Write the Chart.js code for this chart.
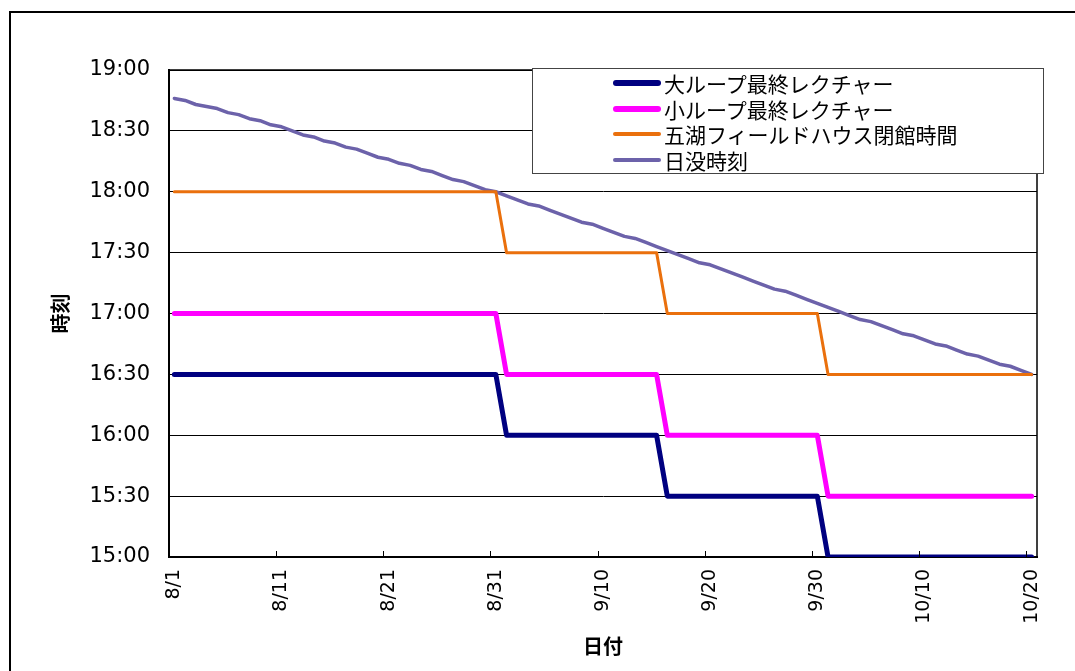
<!DOCTYPE html>
<html>
<head>
<meta charset="utf-8">
<script src="https://cdn.jsdelivr.net/npm/chart.js@4/dist/chart.umd.min.js"></script>
<style>
  html, body { margin: 0; padding: 0; background: #fff; }
  #wrap { position: relative; width: 1075px; height: 671px; overflow: hidden; }
  #frame { position: absolute; left: 9px; top: 11px; width: 1100px; height: 700px;
           border-left: 2px solid #000; border-top: 2px solid #000; }
  #chart { position: absolute; left: 0; top: 0; }
  #legend { position: absolute; left: 532px; top: 68px; width: 512px; height: 106px;
            box-sizing: border-box; border: 1px solid #444; background: #fff;
            font-family: "Noto Sans CJK JP", sans-serif; font-size: 21px; color: #000; }
  .item { position: absolute; left: 80px; height: 26px; display: flex; align-items: center; white-space: nowrap; }
  .swatch { width: 48px; margin-right: 3px; border-radius: 3px; }
</style>
</head>
<body>
<div id="wrap">
  <div id="frame"></div>
  <canvas id="chart" width="1075" height="671"></canvas>
  <div id="legend"></div>
</div>
<script>
// Days from 8/1 to 10/20
const monthDays = [[8, 31], [9, 30], [10, 20]];
const dates = [];
monthDays.forEach(([m, n]) => { for (let d = 1; d <= n; d++) dates.push(m + '/' + d); });

// Dates that carry a label on the axis
const tickLabels = ['8/1', '8/11', '8/21', '8/31', '9/10', '9/20', '9/30', '10/10', '10/20'];

// Last lecture of the large loop
const bigLoopLast = [
  '16:30','16:30','16:30','16:30','16:30','16:30','16:30','16:30','16:30','16:30',
  '16:30','16:30','16:30','16:30','16:30','16:30','16:30','16:30','16:30','16:30',
  '16:30','16:30','16:30','16:30','16:30','16:30','16:30','16:30','16:30','16:30','16:30',
  '16:00','16:00','16:00','16:00','16:00','16:00','16:00','16:00','16:00','16:00',
  '16:00','16:00','16:00','16:00','16:00',
  '15:30','15:30','15:30','15:30','15:30','15:30','15:30','15:30','15:30','15:30',
  '15:30','15:30','15:30','15:30','15:30',
  '15:00','15:00','15:00','15:00','15:00','15:00','15:00','15:00','15:00','15:00',
  '15:00','15:00','15:00','15:00','15:00','15:00','15:00','15:00','15:00','15:00'
];

// Last lecture of the small loop
const smallLoopLast = [
  '17:00','17:00','17:00','17:00','17:00','17:00','17:00','17:00','17:00','17:00',
  '17:00','17:00','17:00','17:00','17:00','17:00','17:00','17:00','17:00','17:00',
  '17:00','17:00','17:00','17:00','17:00','17:00','17:00','17:00','17:00','17:00','17:00',
  '16:30','16:30','16:30','16:30','16:30','16:30','16:30','16:30','16:30','16:30',
  '16:30','16:30','16:30','16:30','16:30',
  '16:00','16:00','16:00','16:00','16:00','16:00','16:00','16:00','16:00','16:00',
  '16:00','16:00','16:00','16:00','16:00',
  '15:30','15:30','15:30','15:30','15:30','15:30','15:30','15:30','15:30','15:30',
  '15:30','15:30','15:30','15:30','15:30','15:30','15:30','15:30','15:30','15:30'
];

// Closing time of the Goko field house
const fieldHouseClose = [
  '18:00','18:00','18:00','18:00','18:00','18:00','18:00','18:00','18:00','18:00',
  '18:00','18:00','18:00','18:00','18:00','18:00','18:00','18:00','18:00','18:00',
  '18:00','18:00','18:00','18:00','18:00','18:00','18:00','18:00','18:00','18:00','18:00',
  '17:30','17:30','17:30','17:30','17:30','17:30','17:30','17:30','17:30','17:30',
  '17:30','17:30','17:30','17:30','17:30',
  '17:00','17:00','17:00','17:00','17:00','17:00','17:00','17:00','17:00','17:00',
  '17:00','17:00','17:00','17:00','17:00',
  '16:30','16:30','16:30','16:30','16:30','16:30','16:30','16:30','16:30','16:30',
  '16:30','16:30','16:30','16:30','16:30','16:30','16:30','16:30','16:30','16:30'
];

// Sunset time
const sunset = [
  '18:46','18:45','18:43','18:42','18:41','18:39','18:38','18:36','18:35','18:33',
  '18:32','18:30','18:28','18:27','18:25','18:24','18:22','18:21','18:19','18:17',
  '18:16','18:14','18:13','18:11','18:10','18:08','18:06','18:05','18:03','18:01','18:00',
  '17:58','17:56','17:54','17:53','17:51','17:49','17:47','17:45','17:44','17:42',
  '17:40','17:38','17:37','17:35','17:33','17:31','17:29','17:27','17:25','17:24',
  '17:22','17:20','17:18','17:16','17:14','17:12','17:11','17:09','17:07','17:05',
  '17:03','17:01','16:59','16:57','16:56','16:54','16:52','16:50','16:49','16:47',
  '16:45','16:44','16:42','16:40','16:39','16:37','16:35','16:34','16:32','16:30'
];

const toHours = s => { const [h, m] = s.split(':').map(Number); return h + m / 60; };
const fmtTime = v => { const h = Math.floor(v + 1e-9); const m = Math.round((v - h) * 60); return h + ':' + String(m).padStart(2, '0'); };

const series = [
  { label: '大ループ最終レクチャー', values: bigLoopLast, color: '#000080', width: 5, legendWidth: 6 },
  { label: '小ループ最終レクチャー', values: smallLoopLast, color: '#ff00ff', width: 5, legendWidth: 6 },
  { label: '五湖フィールドハウス閉館時間', values: fieldHouseClose, color: '#ea700d', width: 3, legendWidth: 4 },
  { label: '日没時刻', values: sunset, color: '#6c62aa', width: 3.5, legendWidth: 4 }
];

const FONT = '"DejaVu Sans", "Noto Sans CJK JP", sans-serif';

// Frame around the plotting area
const plotFrame = {
  id: 'plotFrame',
  beforeDatasetsDraw(chart) {
    const { ctx, chartArea: a } = chart;
    ctx.save();
    ctx.strokeStyle = '#000';
    ctx.lineWidth = 1.5;
    ctx.strokeRect(a.left, a.top, a.right - a.left, a.bottom - a.top);
    ctx.restore();
  }
};

// Short tick marks pointing into the plot at the labelled dates
const innerTicks = {
  id: 'innerTicks',
  afterDatasetsDraw(chart) {
    const xs = chart.scales.x;
    const { ctx, chartArea: a } = chart;
    const half = (xs.getPixelForValue(1) - xs.getPixelForValue(0)) / 2;
    ctx.save();
    ctx.strokeStyle = '#000';
    ctx.lineWidth = 1;
    dates.forEach((d, i) => {
      if (!tickLabels.includes(d)) return;
      const x = Math.round(xs.getPixelForValue(i) - half) + 0.5;
      ctx.beginPath();
      ctx.moveTo(x, a.bottom);
      ctx.lineTo(x, a.bottom - 6);
      ctx.stroke();
    });
    ctx.restore();
  }
};

const chart = new Chart(document.getElementById('chart'), {
  type: 'line',
  data: {
    labels: dates,
    datasets: series.map(s => ({
      label: s.label,
      data: s.values.map(toHours),
      borderColor: s.color,
      backgroundColor: s.color,
      borderWidth: s.width,
      pointRadius: 0,
      tension: 0,
      fill: false,
      borderJoinStyle: 'round',
      borderCapStyle: 'round'
    }))
  },
  options: {
    responsive: false,
    animation: false,
    layout: { padding: { left: 47, top: 70, right: 38, bottom: 0 } },
    plugins: { legend: { display: false }, tooltip: { enabled: false } },
    scales: {
      x: {
        type: 'category',
        offset: true,
        grid: { display: false, drawTicks: false },
        border: { display: true, color: '#000', width: 2 },
        ticks: {
          autoSkip: false,
          maxRotation: 90,
          minRotation: 90,
          padding: 12,
          color: '#000',
          font: { family: FONT, size: 19 },
          callback(value, index) {
            const d = this.getLabelForValue(value);
            return tickLabels.includes(d) ? d : '';
          }
        },
        title: {
          display: true, text: '日付', color: '#000',
          font: { family: FONT, size: 20, weight: 'bold' },
          padding: { top: 0, bottom: 10 }
        },
        afterFit(s) { s.height = 114; }
      },
      y: {
        min: 15,
        max: 19,
        grid: { color: '#000', lineWidth: 1, drawTicks: false },
        border: { display: true, color: '#000', width: 2 },
        ticks: {
          stepSize: 0.5,
          padding: 19,
          color: '#000',
          font: { family: FONT, size: 21 },
          callback: v => fmtTime(v)
        },
        title: {
          display: true, text: '時刻', color: '#000',
          font: { family: FONT, size: 20, weight: 'bold' },
          padding: { top: 4, bottom: 4 }
        },
        afterFit(s) { s.width = 122; }
      }
    }
  },
  plugins: [plotFrame, innerTicks]
});

// Legend box
const legendEl = document.getElementById('legend');
chart.data.datasets.forEach((ds, i) => {
  const item = document.createElement('div');
  item.className = 'item';
  item.style.top = (1 + i * 25.5) + 'px';
  const sw = document.createElement('span');
  sw.className = 'swatch';
  sw.style.height = series[i].legendWidth + 'px';
  sw.style.background = ds.borderColor;
  const txt = document.createElement('span');
  txt.textContent = ds.label;
  item.appendChild(sw);
  item.appendChild(txt);
  legendEl.appendChild(item);
});
</script>
</body>
</html>
